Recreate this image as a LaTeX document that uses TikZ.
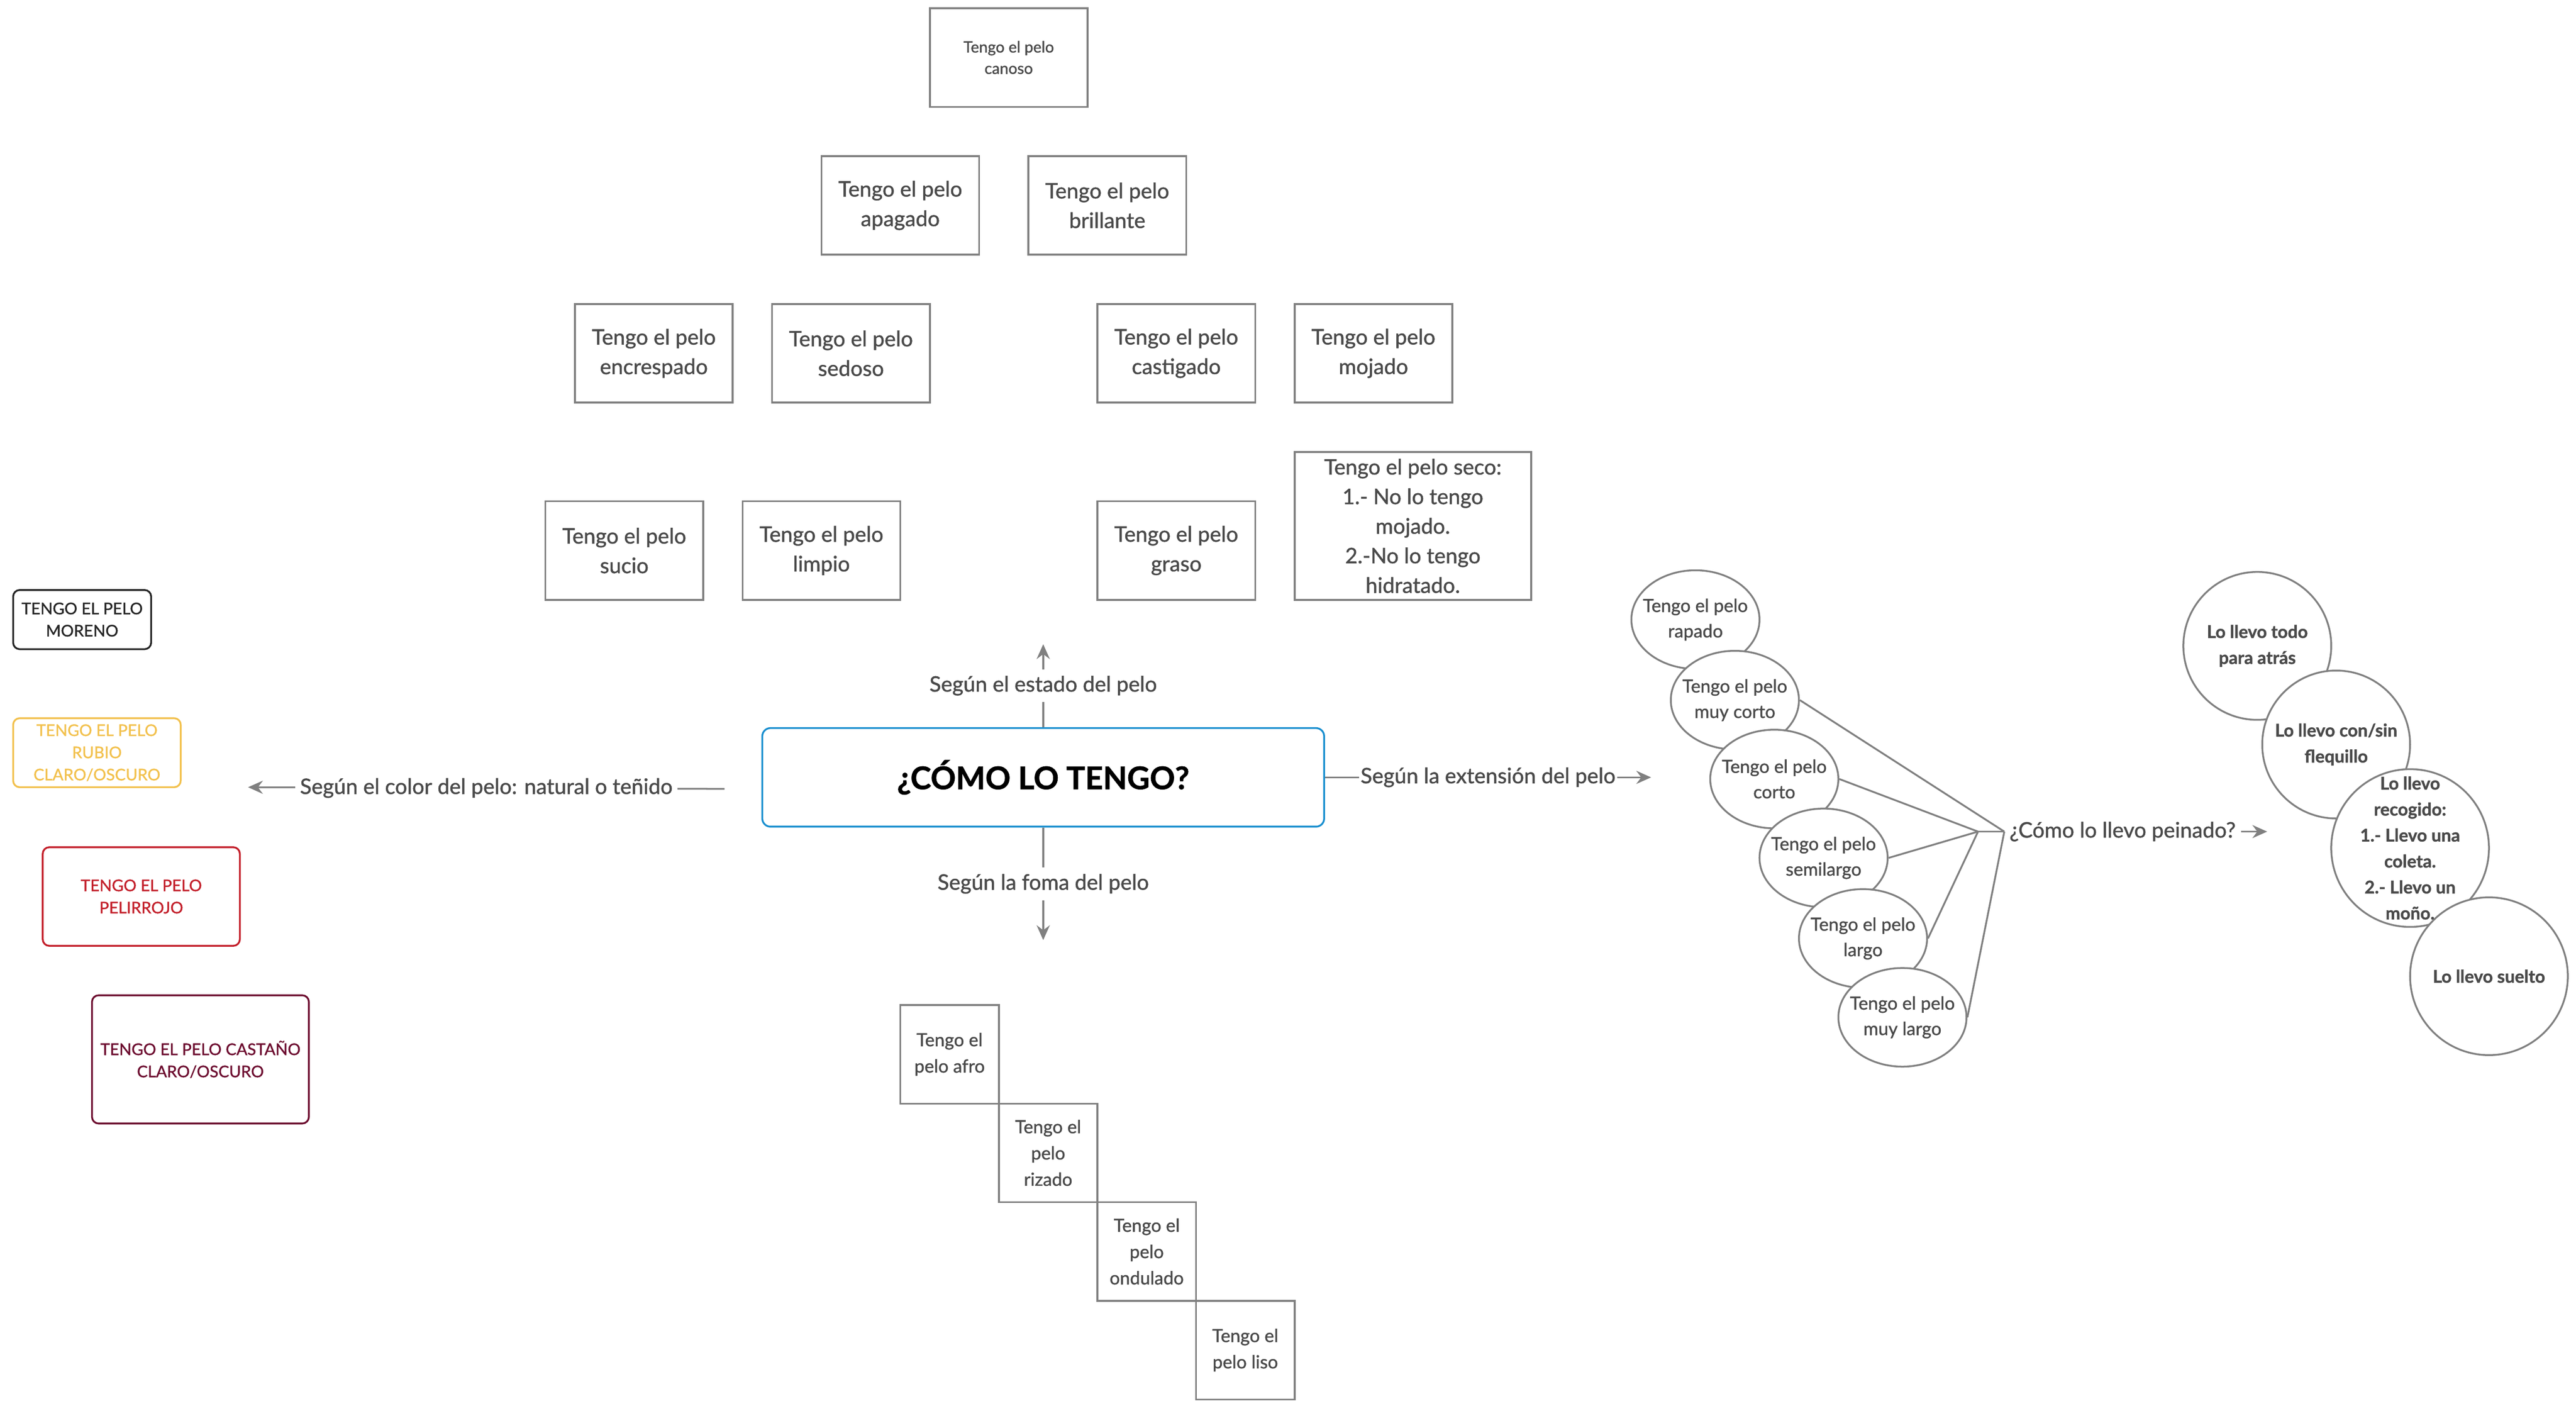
\documentclass[tikz,border=0pt]{standalone}
\usepackage{fontspec}
\setmainfont{Lato}[FakeBold=1.2]
\usetikzlibrary{arrows.meta}
\usetikzlibrary{shapes.geometric}

\definecolor{gristexto}{HTML}{4A4A4A}
\definecolor{grislinea}{HTML}{808080}
\definecolor{azulcaja}{HTML}{1A8FCF}
\definecolor{amarillo}{HTML}{F2C14E}
\definecolor{rojo}{HTML}{C3202B}
\definecolor{granate}{HTML}{6D0E30}
\definecolor{negro}{HTML}{262626}

\tikzset{
	caja/.style={draw=grislinea, line width=1.1pt, fill=white, inner sep=0pt, align=center,
		text=gristexto, font=\fontsize{13}{18}\selectfont, minimum width=96pt, minimum height=60pt},
	cajita/.style={caja, minimum width=60pt, font=\fontsize{11}{16}\selectfont},
	tinte/.style={draw=#1, text=#1, line width=1.1pt, rounded corners=4pt, inner sep=0pt,
		align=center, font=\fontsize{9.8}{13.5}\selectfont},
	elipse/.style={ellipse, draw=grislinea, line width=1.1pt, fill=white, inner sep=0pt,
		minimum width=78pt, minimum height=60pt},
	burbuja/.style={circle, draw=grislinea, line width=1.1pt, fill=white, inner sep=0pt},
	letra/.style={text=gristexto, align=center, font=\fontsize{11}{15.5}\selectfont},
	letragorda/.style={text=gristexto, align=center, font=\bfseries\fontsize{10.7}{15.8}\selectfont},
	linea/.style={draw=grislinea, line width=1.1pt},
	rama/.style={linea, -{Stealth[length=9pt, width=8pt, inset=3pt]}},
	etiqueta/.style={fill=white, text=gristexto, font=\fontsize{13}{16}\selectfont, inner xsep=3pt, inner ysep=4pt}
}

\begin{document}
\begin{tikzpicture}[x=1pt, y=-1pt]
	\useasboundingbox (0,0) rectangle (1568,855.2);

	% estado del pelo
	\node[caja, font=\fontsize{9.5}{13}\selectfont] at (614, 35) (canoso) {Tengo el pelo\\canoso};
	\node[caja] at (548, 125) (apagado) {Tengo el pelo\\apagado};
	\node[caja] at (674, 125) (brillante) {Tengo el pelo\\brillante};
	\node[caja] at (398, 215) (encrespado) {Tengo el pelo\\encrespado};
	\node[caja] at (518, 215) (sedoso) {Tengo el pelo\\sedoso};
	\node[caja] at (716, 215) (castigado) {Tengo el pelo\\castigado};
	\node[caja] at (836, 215) (mojado) {Tengo el pelo\\mojado};
	\node[caja] at (380, 335) (sucio) {Tengo el pelo\\sucio};
	\node[caja] at (500, 335) (limpio) {Tengo el pelo\\limpio};
	\node[caja] at (716, 335) (graso) {Tengo el pelo\\graso};
	\node[caja, minimum width=144pt, minimum height=90pt] at (860, 320) (seco)
		{Tengo el pelo seco:\\1.- No lo tengo\\mojado.\\2.-No lo tengo\\hidratado.};

	% color del pelo
	\node[tinte=negro, minimum width=84pt, minimum height=36pt] at (50, 377) (moreno) {TENGO EL PELO\\MORENO};
	\node[tinte=amarillo, minimum width=102pt, minimum height=42pt] at (59, 458) (rubio) {TENGO EL PELO\\RUBIO\\CLARO/OSCURO};
	\node[tinte=rojo, minimum width=120pt, minimum height=60pt] at (86, 545.5) (pelirrojo) {TENGO EL PELO\\PELIRROJO};
	\node[tinte=granate, minimum width=132pt, minimum height=78pt] at (122, 644.6) (castano) {TENGO EL PELO CASTAÑO\\CLARO/OSCURO};

	% forma del pelo
	\node[cajita] at (578, 641.5) (afro) {Tengo el\\pelo afro};
	\node[cajita] at (638, 701.5) (rizado) {Tengo el\\pelo\\rizado};
	\node[cajita] at (698, 761.5) (ondulado) {Tengo el\\pelo\\ondulado};
	\node[cajita] at (758, 821.5) (liso) {Tengo el\\pelo liso};

	% centro
	\node[draw=azulcaja, line width=1.1pt, rounded corners=5pt, minimum width=342pt, minimum height=60pt,
		font=\bfseries\fontsize{19}{22}\selectfont] at (635, 473) (centro) {¿CÓMO LO TENGO?};

	\coordinate (arriba) at (635, 392);
	\coordinate (abajo) at (635, 572);
	\coordinate (derecha) at (1005, 473);
	\coordinate (colorini) at (441, 480);
	\coordinate (izquierda) at (151, 479);

	\draw[rama] (centro.north) -- node[etiqueta] {Según el estado del pelo} (arriba);
	\draw[rama] (centro.south) -- node[etiqueta] {Según la foma del pelo} (abajo);
	\draw[rama] (centro.east) -- node[etiqueta, inner xsep=1pt] {Según la extensión del pelo} (derecha);
	\draw[rama] (colorini) -- node[etiqueta] {Según el color del pelo: natural o teñido} (izquierda);

	% extension del pelo
	\node[elipse, label={[letra]center:Tengo el pelo\\rapado}] at (1032, 377) (rapado) {};
	\node[elipse, label={[letra]center:Tengo el pelo\\muy corto}] at (1056, 426) (muycorto) {};
	\node[elipse, label={[letra]center:Tengo el pelo\\corto}] at (1080, 474) (corto) {};
	\node[elipse, label={[letra]center:Tengo el pelo\\semilargo}] at (1110, 522) (semilargo) {};
	\node[elipse, label={[letra]center:Tengo el pelo\\largo}] at (1134, 571) (largo) {};
	\node[elipse, label={[letra]center:Tengo el pelo\\muy largo}] at (1158, 619) (muylargo) {};

	\node[etiqueta, fill=none] at (1292, 506) (peinado) {¿Cómo lo llevo peinado?};
	\coordinate (nudo) at (1204, 506);
	\coordinate (salida) at (1380, 506);

	\draw[linea] (muycorto.east) -- (peinado.west);
	\draw[linea] (corto.east) -- (nudo);
	\draw[linea] (semilargo.east) -- (nudo);
	\draw[linea] (largo.east) -- (nudo);
	\draw[linea] (muylargo.east) -- (peinado.west);
	\draw[linea] (nudo) -- (peinado.west);
	\draw[rama] (peinado.east) -- (salida);

	% peinados
	\node[burbuja, minimum size=90pt, label={[letragorda]center:Lo llevo todo\\para atrás}] at (1374, 393) (atras) {};
	\node[burbuja, minimum size=90pt, label={[letragorda]center:Lo llevo con/sin\\flequillo}] at (1422, 453) (flequillo) {};
	\node[burbuja, minimum size=96pt, label={[letragorda]center:{Lo llevo\\recogido:\\1.- Llevo una\\coleta.\\2.- Llevo un\\moño.}}] at (1467, 516) (recogido) {};
	\node[burbuja, minimum size=96pt, label={[letragorda]center:Lo llevo suelto}] at (1515, 594) (suelto) {};
\end{tikzpicture}
\end{document}
